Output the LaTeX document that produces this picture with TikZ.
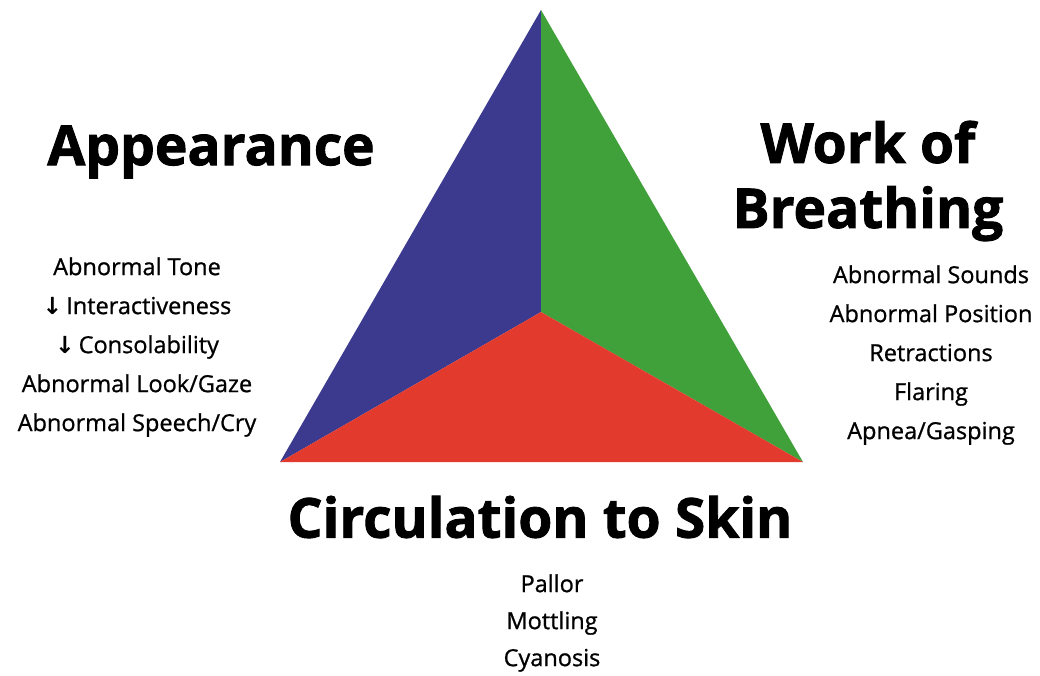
\documentclass[tikz,border=0pt]{standalone}
\usepackage{fontspec}
\setmainfont{Open Sans}
\newfontfamily\signfont[FakeBold=0.9]{Open Sans}
\newfontfamily\titlefont[BoldFeatures={FakeBold=1.6}]{Open Sans}
\newfontfamily\arrowfont{DejaVu Sans}
\usepackage{tikz}
\usetikzlibrary{positioning,calc}
\definecolor{patblue}{HTML}{3B3A8E}
\definecolor{patgreen}{HTML}{40A03A}
\definecolor{patred}{HTML}{E23B2E}
\newcommand{\dn}{{\arrowfont\bfseries\char"2193}\,}

\begin{document}
\begin{tikzpicture}[
  x=1pt, y=-1pt,
  title/.style={align=center, font=\titlefont\fontsize{55}{65}\selectfont\bfseries},
  signs/.style={align=center, font=\signfont\fontsize{23.5}{39}\selectfont}
]
  \useasboundingbox (0,0) rectangle (1040,675);
  % Triangle
  \coordinate (top) at (541,10);
  \coordinate (left) at (280,462);
  \coordinate (right) at (803,462);
  \coordinate (mid) at (541,312);
  \fill[patblue] (top) -- (mid) -- (left) -- cycle;
  \fill[patgreen] (top) -- (right) -- (mid) -- cycle;
  \fill[patred] (left) -- (mid) -- (right) -- cycle;

  % Titles
  \node[title] (appear) at (211,152) {Appearance};
  \node[title] (breath) at (868,181) {Work of\\Breathing};
  \node[title] (circ) at (540,517) {Circulation to Skin};

  % Signs
  \node[signs] (appsigns) at (137,347) {Abnormal Tone\\\dn Interactiveness\\\dn Consolability\\Abnormal Look/Gaze\\Abnormal Speech/Cry};
  \node[signs] (wobsigns) at (931,355) {Abnormal Sounds\\Abnormal Position\\Retractions\\Flaring\\Apnea/Gasping};
  \node[signs, font=\signfont\fontsize{23.5}{37}\selectfont] (circsigns) at (552,623) {Pallor\\Mottling\\Cyanosis};
\end{tikzpicture}
\end{document}
